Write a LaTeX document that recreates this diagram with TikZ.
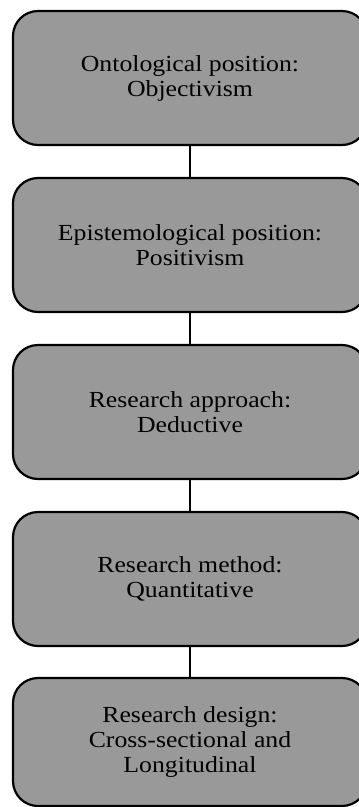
\documentclass[tikz,border=0pt]{standalone}
\usepackage{fontspec}
\setmainfont{Liberation Serif}[FakeStretch=1.12]
\definecolor{boxgray}{HTML}{999999}
\tikzset{
  stagebox/.style={draw=black, line width=2.2pt, fill=boxgray, rounded corners=25pt,
    minimum width=354pt, minimum height=134pt, align=center, inner sep=0pt,
    font=\fontsize{23}{25}\selectfont},
  link/.style={draw=black, line width=2pt}
}
\begin{document}
\begin{tikzpicture}[x=1pt,y=-1pt]
  \useasboundingbox (0,0) rectangle (359,807);
  \clip (0,0) rectangle (359,807);
  \node[stagebox] (onto) at (190,78) {Ontological position:\\Objectivism};
  \node[stagebox] (epis) at (190,245) {Epistemological position:\\Positivism};
  \node[stagebox] (appr) at (190,412) {Research approach:\\Deductive};
  \node[stagebox] (meth) at (190,579) {Research method:\\Quantitative};
  \node[stagebox, minimum height=128pt] (desg) at (190,742) {Research design:\\Cross-sectional and\\Longitudinal};
  \draw[link] (onto.south) -- (epis.north);
  \draw[link] (epis.south) -- (appr.north);
  \draw[link] (appr.south) -- (meth.north);
  \draw[link] (meth.south) -- (desg.north);
\end{tikzpicture}
\end{document}
